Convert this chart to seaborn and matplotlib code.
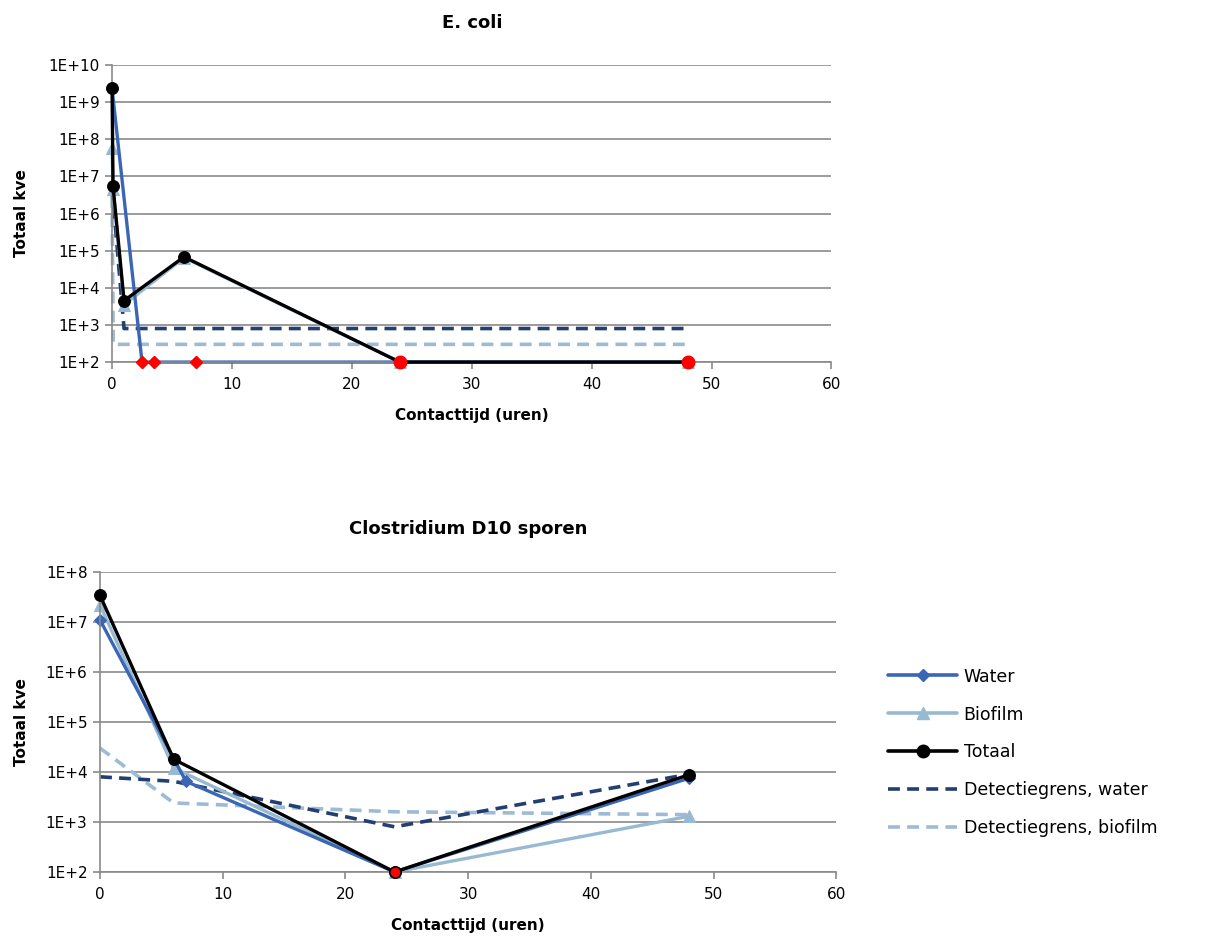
import numpy as np
import pandas as pd
import seaborn as sns
import matplotlib.pyplot as plt
from matplotlib.lines import Line2D
from matplotlib.ticker import FixedLocator, FuncFormatter, NullLocator

# ---- E. coli (top chart) ----
ecoli_water_t = [0, 2.5, 3.5, 7, 24, 48]
ecoli_water = [2.3e9, 100, 100, 100, 100, 100]
ecoli_bio_t = [0, 0.08, 1, 6, 24, 48]
ecoli_bio = [6e7, 4.5e6, 3.5e3, 6.5e4, 100, 100]
ecoli_tot_t = [0, 0.08, 1, 6, 24, 48]
ecoli_tot = [2.4e9, 5.5e6, 4.5e3, 6.8e4, 100, 100]
ecoli_detw_t = [0, 1, 6, 24, 48]
ecoli_detw = [5e6, 800, 800, 800, 800]
ecoli_detb_t = [0, 0.1, 1, 6, 24, 48]
ecoli_detb = [3e6, 300, 300, 300, 300, 300]
# points below detection limit (shown red)
ecoli_red_water_t = [2.5, 3.5, 7]
ecoli_red_water = [100, 100, 100]
ecoli_red_tot_t = [24, 48]
ecoli_red_tot = [100, 100]

# ---- Clostridium (bottom chart) ----
clos_t = [0, 6, 24, 48]
clos_water_t = [0, 7, 24, 48]
clos_water = [1.1e7, 6.5e3, 100, 7.5e3]
clos_bio = [2.2e7, 1.2e4, 100, 1.3e3]
clos_tot = [3.4e7, 1.8e4, 100, 8.8e3]
clos_detw = [8e3, 6.5e3, 800, 9e3]
clos_detb = [3e4, 2.4e3, 1.6e3, 1.4e3]
clos_red_t = [24]
clos_red = [100]

c_water = '#3a66b5'
c_bio = '#98b9d2'
c_tot = '#000000'
c_detw = '#233e70'
c_detb = '#9dbbd4'
grid_c = '#8a8a8a'

sns.set_style('white')
plt.rcParams['font.family'] = ['DejaVu Sans']
plt.rcParams['text.color'] = 'black'
plt.rcParams['axes.labelcolor'] = 'black'
plt.rcParams['xtick.color'] = 'black'
plt.rcParams['ytick.color'] = 'black'

fig = plt.figure(figsize=(12.05, 9.38), dpi=100)
ax1 = fig.add_axes([0.093, 0.614, 0.597, 0.3167])
ax2 = fig.add_axes([0.083, 0.0704, 0.611, 0.3198])

dash = (0, (3.3, 2.0))


def draw(ax, t, y, color, marker=None, ms=0, ls='-', lw=2.4, z=2):
    df = pd.DataFrame({'t': t, 'y': y})
    sns.lineplot(data=df, x='t', y='y', ax=ax, color=color, sort=False,
                 estimator=None, marker=marker, markersize=ms,
                 markeredgecolor=color, linewidth=lw, linestyle=ls,
                 zorder=z, clip_on=False, legend=False)


def style(ax, top_exp, title, ylpad):
    ax.set_yscale('log')
    ax.set_ylim(1e2, 10.0 ** top_exp)
    ax.set_xlim(0, 60)
    ax.yaxis.set_major_locator(FixedLocator([10.0 ** e for e in range(2, top_exp + 1)]))
    ax.yaxis.set_minor_locator(NullLocator())
    ax.yaxis.set_major_formatter(FuncFormatter(lambda v, p: '1E+%d' % round(np.log10(v))))
    ax.set_xticks(range(0, 61, 10))
    ax.grid(axis='y', color=grid_c, linewidth=1.2)
    ax.grid(axis='x', visible=False)
    for s in ['top', 'right']:
        ax.spines[s].set_visible(False)
    for s in ['left', 'bottom']:
        ax.spines[s].set_color(grid_c)
        ax.spines[s].set_linewidth(1.2)
    ax.tick_params(axis='both', direction='out', length=5, width=1.2,
                   color=grid_c, labelcolor='black', labelsize=11,
                   left=True, bottom=True, pad=4)
    ax.tick_params(axis='x', pad=6)
    ax.set_xlabel('Contacttijd (uren)', fontsize=11, fontweight='bold', labelpad=11)
    ax.set_ylabel('Totaal kve', fontsize=11, fontweight='bold', labelpad=ylpad)
    ax.set_title(title, fontsize=13, fontweight='bold', pad=27)


# top chart
draw(ax1, ecoli_detb_t, ecoli_detb, c_detb, ls=dash, lw=2.6)
draw(ax1, ecoli_detw_t, ecoli_detw, c_detw, ls=dash, lw=2.6)
draw(ax1, ecoli_bio_t, ecoli_bio, c_bio, '^', 9)
draw(ax1, ecoli_water_t, ecoli_water, c_water, 'D', 6)
draw(ax1, ecoli_tot_t, ecoli_tot, c_tot, 'o', 8.5, z=3)
ax1.plot(ecoli_red_water_t, ecoli_red_water, 'D', color='red', ms=6.5, zorder=4, clip_on=False)
ax1.plot(ecoli_red_tot_t, ecoli_red_tot, 'o', color='red', ms=9, zorder=4, clip_on=False)
style(ax1, 10, 'E. coli', 14)

# bottom chart
draw(ax2, clos_t, clos_detb, c_detb, ls=dash, lw=2.6)
draw(ax2, clos_t, clos_detw, c_detw, ls=dash, lw=2.6)
draw(ax2, clos_t, clos_bio, c_bio, '^', 9)
draw(ax2, clos_water_t, clos_water, c_water, 'D', 6)
draw(ax2, clos_t, clos_tot, c_tot, 'o', 8.5, z=3)
ax2.plot(clos_red_t, clos_red, 'o', color='red', mec='black', ms=8, zorder=4, clip_on=False)
style(ax2, 8, 'Clostridium D10 sporen', 12)

handles = [
    Line2D([], [], color=c_water, lw=2.6, marker='D', ms=6),
    Line2D([], [], color=c_bio, lw=2.6, marker='^', ms=9),
    Line2D([], [], color=c_tot, lw=2.6, marker='o', ms=9),
    Line2D([], [], color=c_detw, lw=2.6, linestyle=dash),
    Line2D([], [], color=c_detb, lw=2.6, linestyle=dash),
]
labels = ['Water', 'Biofilm', 'Totaal', 'Detectiegrens, water', 'Detectiegrens, biofilm']
fig.legend(handles, labels, loc='upper left', bbox_to_anchor=(0.724, 0.305),
           frameon=False, fontsize=12.5, handlelength=4.0, labelspacing=1.15,
           handletextpad=0.35)

fig.savefig('out.png', dpi=100)
